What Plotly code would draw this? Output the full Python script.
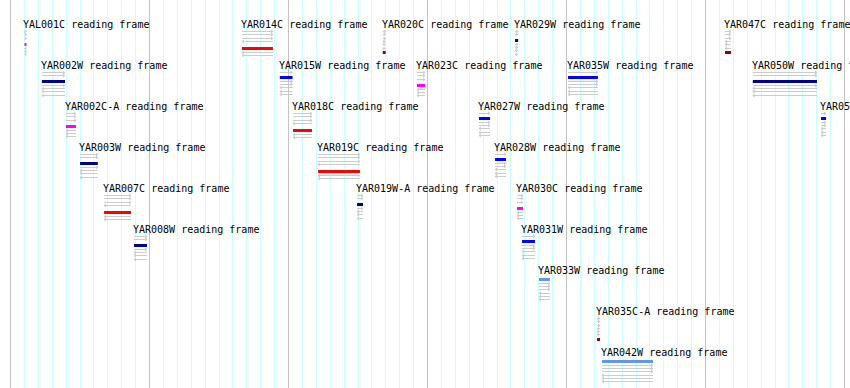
import plotly.graph_objects as go

# ---------------- data (genomic coordinates, chromosome I) ----------------
gene_names = ["YAL001C", "YAR014C", "YAR020C", "YAR029W", "YAR047C",
              "YAR002W", "YAR015W", "YAR023C", "YAR035W", "YAR050W",
              "YAR002C-A", "YAR018C", "YAR027W", "YAR053W",
              "YAR003W", "YAR019C", "YAR028W",
              "YAR007C", "YAR019W-A", "YAR030C",
              "YAR008W", "YAR031W",
              "YAR033W",
              "YAR035C-A",
              "YAR042W"]
gene_starts = [151007, 166650, 176780, 186300, 201400,
               152257, 169375, 179240, 190110, 203403,
               153990, 170320, 183700, 208310,
               155005, 172120, 184860,
               156730, 174930, 186440,
               158885, 186800,
               188020,
               192190,
               192550]
gene_ends = [151151, 168880, 176990, 186520, 201830,
             153920, 170290, 179820, 192260, 208016,
             154710, 171690, 184500, 208670,
             156285, 175140, 185650,
             158670, 175360, 186870,
             159820, 187730,
             188810,
             192410,
             196220]
gene_lanes = [0, 0, 0, 0, 0,
              1, 1, 1, 1, 1,
              2, 2, 2, 2,
              3, 3, 3,
              4, 4, 4,
              5, 5,
              6,
              7,
              8]
gene_frames = ["R1", "R2", "R3", "F3", "R3",
               "F3", "F2", "R1", "F2", "F3",
               "R1", "R2", "F2", "F2",
               "F3", "R2", "F2",
               "R2", "F3", "R1",
               "F3", "F2",
               "F1",
               "R3",
               "F1"]
label_suffix = " reading frame"

grid_start_bp = 151000     # first grid line drawn
minor_step_bp = 1000
major_step_bp = 10000

# ---------------- styles / layout ----------------
W, H = 850, 388
BP_PER_PX = 71.94
X0 = 160000 - 149.5 * BP_PER_PX
X1 = X0 + W * BP_PER_PX
LANE0, LANE_H = 24, 41

FRAME_COLOR = {"F1": "#6495ED", "F2": "#0000FF", "F3": "#00008B",
               "R1": "#FF00FF", "R2": "#FF0000", "R3": "#990000"}
# (number of frame lines drawn above the bar, bar top offset from label centre)
FRAME_LAYOUT = {"F1": (0, 8), "F2": (1, 11), "F3": (2, 15),
                "R1": (3, 19), "R2": (4, 23), "R3": (6, 27)}
LINE_COLOR = "#cccccc"
MINOR_COLOR = "#ccffff"
MAJOR_COLOR = "#c4c4c4"
FONT = dict(family="DejaVu Sans Mono", size=10, color="black")

fig = go.Figure()
shapes = []

# hide grid before the first drawn grid line
shapes.append(dict(type="rect", xref="x", yref="paper", x0=X0, x1=grid_start_bp - 400,
                   y0=0, y1=1, fillcolor="white", line=dict(width=0), layer="between"))

gx, gy = [], []
annotations = []
ah = 2 * BP_PER_PX
for name, s, e, lane, fr in zip(gene_names, gene_starts, gene_ends, gene_lanes, gene_frames):
    yL = LANE0 + LANE_H * lane
    n_above, bar_off = FRAME_LAYOUT[fr]
    offs = [7 + 3.3 * i for i in range(n_above)] + \
           [bar_off + 5 + 3.2 * j for j in range(6 - n_above)]
    for i, off in enumerate(offs):
        y = round(yL + off) + 0.5
        gx += [s, e, None]
        gy += [y, y, None]
        if i < 3:
            gx += [e - ah, e, e - ah, None]
        else:
            gx += [s + ah, s, s + ah, None]
        gy += [y - 1.5, y, y + 1.5, None]
    bt = round(yL + bar_off)
    shapes.append(dict(type="rect", xref="x", yref="y", x0=s, x1=e, y0=bt, y1=bt + 3,
                       fillcolor=FRAME_COLOR[fr], line=dict(width=0), layer="above"))
    annotations.append(dict(x=s, y=yL, xref="x", yref="y", text=name + label_suffix,
                            showarrow=False, xanchor="left", yanchor="middle",
                            font=FONT, xshift=-3))

fig.add_trace(go.Scatter(x=gx, y=gy, mode="lines", hoverinfo="skip",
                         line=dict(color=LINE_COLOR, width=1)))

fig.update_layout(
    width=W, height=H, margin=dict(l=0, r=0, t=0, b=0),
    paper_bgcolor="white", plot_bgcolor="white", showlegend=False,
    xaxis=dict(range=[X0, X1], fixedrange=True, showticklabels=False, ticks="",
               showline=False, zeroline=False,
               tick0=0, dtick=major_step_bp, showgrid=True,
               gridcolor=MAJOR_COLOR, gridwidth=1,
               minor=dict(tick0=0, dtick=minor_step_bp, showgrid=True,
                          gridcolor=MINOR_COLOR, gridwidth=1, ticks="")),
    yaxis=dict(range=[H, 0], visible=False, fixedrange=True),
    shapes=shapes, annotations=annotations,
)

fig.write_html("out.html")
